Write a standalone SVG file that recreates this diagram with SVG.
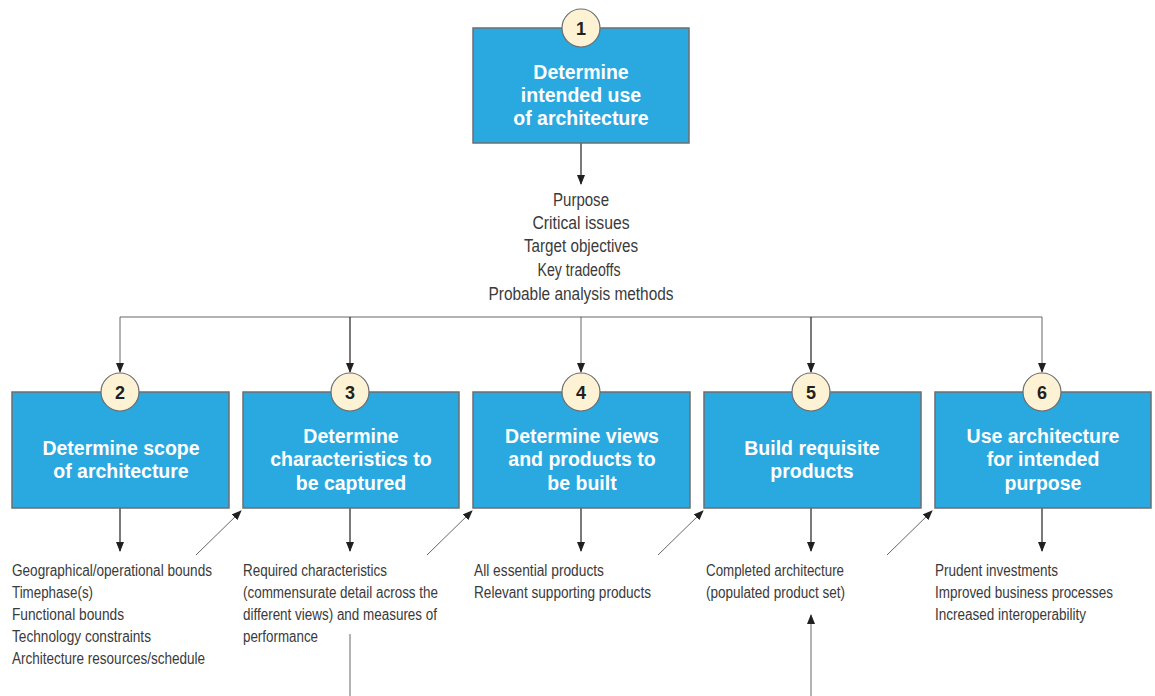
<svg xmlns="http://www.w3.org/2000/svg" width="1155" height="696" viewBox="0 0 1155 696">
<style>
.box{fill:#29a9e0;stroke:#6d6e70;stroke-width:1.5}
.num{fill:#fdf3d4;stroke:#6d6e70;stroke-width:1.2}
.numt{font-family:"Liberation Sans",Arial,sans-serif;font-weight:bold;font-size:18px;fill:#231f20;text-anchor:middle}
.bt{font-family:"Liberation Sans",Arial,sans-serif;font-weight:bold;font-size:19.5px;fill:#ffffff;text-anchor:middle}
.lt{font-family:"Liberation Sans",Arial,sans-serif;font-size:16px;fill:#3a3a3a}
.ct{font-family:"Liberation Sans",Arial,sans-serif;font-size:17.5px;fill:#3a3a3a;text-anchor:middle}
.ln{stroke:#231f20;stroke-width:1.2;fill:none}
.dg{stroke:#555;stroke-width:0.9;fill:none}
</style>
<defs>
<marker id="ah" markerWidth="10" markerHeight="8" refX="9" refY="4" orient="auto" markerUnits="userSpaceOnUse">
<path d="M0,0 L10,4 L0,8 Z" fill="#231f20"/>
</marker>
</defs>
<rect width="1155" height="696" fill="#ffffff"/>

<g id="connectors">
<line class="ln" x1="581" y1="143" x2="581" y2="184" marker-end="url(#ah)"/>
<line class="dg" x1="120" y1="317" x2="1042" y2="317"/>
<line class="dg" x1="120" y1="317" x2="120" y2="372" marker-end="url(#ah)"/>
<line class="ln" x1="350" y1="317" x2="350" y2="372" marker-end="url(#ah)"/>
<line class="dg" x1="581" y1="317" x2="581" y2="372" marker-end="url(#ah)"/>
<line class="ln" x1="811" y1="317" x2="811" y2="372" marker-end="url(#ah)"/>
<line class="dg" x1="1042" y1="317" x2="1042" y2="372" marker-end="url(#ah)"/>
<line class="ln" x1="120" y1="490" x2="120" y2="551" marker-end="url(#ah)"/>
<line class="ln" x1="350" y1="490" x2="350" y2="551" marker-end="url(#ah)"/>
<line class="ln" x1="581" y1="490" x2="581" y2="551" marker-end="url(#ah)"/>
<line class="ln" x1="811" y1="490" x2="811" y2="551" marker-end="url(#ah)"/>
<line class="ln" x1="1042" y1="490" x2="1042" y2="551" marker-end="url(#ah)"/>
<line class="dg" x1="196" y1="555" x2="241" y2="511" marker-end="url(#ah)"/>
<line class="dg" x1="427" y1="555" x2="472" y2="511" marker-end="url(#ah)"/>
<line class="dg" x1="658" y1="555" x2="703" y2="511" marker-end="url(#ah)"/>
<line class="dg" x1="887" y1="555" x2="932" y2="511" marker-end="url(#ah)"/>
<line class="dg" x1="350" y1="634" x2="350" y2="696"/>
<line class="dg" x1="811" y1="696" x2="811" y2="615" marker-end="url(#ah)"/>
</g>

<g id="node1">
<rect class="box" x="473" y="28" width="216" height="115"/>
<circle class="num" cx="581" cy="28" r="19"/>
<text class="numt" x="581" y="34.5">1</text>
<text class="bt" x="581" y="79">Determine</text>
<text class="bt" x="581" y="102">intended use</text>
<text class="bt" x="581" y="125">of architecture</text>
</g>

<g id="list1">
<text class="ct" x="581" y="206" textLength="56" lengthAdjust="spacingAndGlyphs">Purpose</text>
<text class="ct" x="581" y="229" textLength="97" lengthAdjust="spacingAndGlyphs">Critical issues</text>
<text class="ct" x="581" y="252" textLength="114" lengthAdjust="spacingAndGlyphs">Target objectives</text>
<text class="ct" x="579" y="276" textLength="83" lengthAdjust="spacingAndGlyphs">Key tradeoffs</text>
<text class="ct" x="581" y="300" textLength="185" lengthAdjust="spacingAndGlyphs">Probable analysis methods</text>
</g>

<g id="node2">
<rect class="box" x="12" y="392" width="217" height="116"/>
<circle class="num" cx="120" cy="392" r="19"/>
<text class="numt" x="120" y="398.5">2</text>
<text class="bt" x="121" y="455">Determine scope</text>
<text class="bt" x="121" y="478">of architecture</text>
</g>

<g id="node3">
<rect class="box" x="243" y="392" width="216" height="116"/>
<circle class="num" cx="350" cy="392" r="19"/>
<text class="numt" x="350" y="398.5">3</text>
<text class="bt" x="351" y="443">Determine</text>
<text class="bt" x="351" y="466">characteristics to</text>
<text class="bt" x="351" y="490">be captured</text>
</g>

<g id="node4">
<rect class="box" x="473" y="392" width="217" height="116"/>
<circle class="num" cx="581" cy="392" r="19"/>
<text class="numt" x="581" y="398.5">4</text>
<text class="bt" x="582" y="443">Determine views</text>
<text class="bt" x="582" y="466">and products to</text>
<text class="bt" x="582" y="490">be built</text>
</g>

<g id="node5">
<rect class="box" x="704" y="392" width="217" height="116"/>
<circle class="num" cx="811" cy="392" r="19"/>
<text class="numt" x="811" y="398.5">5</text>
<text class="bt" x="812" y="455">Build requisite</text>
<text class="bt" x="812" y="478">products</text>
</g>

<g id="node6">
<rect class="box" x="935" y="392" width="216" height="116"/>
<circle class="num" cx="1042" cy="392" r="19"/>
<text class="numt" x="1042" y="398.5">6</text>
<text class="bt" x="1043" y="443">Use architecture</text>
<text class="bt" x="1043" y="466">for intended</text>
<text class="bt" x="1043" y="490">purpose</text>
</g>

<g id="list2">
<text class="lt" x="12" y="576" textLength="200" lengthAdjust="spacingAndGlyphs">Geographical/operational bounds</text>
<text class="lt" x="12" y="598" textLength="81" lengthAdjust="spacingAndGlyphs">Timephase(s)</text>
<text class="lt" x="12" y="620" textLength="112" lengthAdjust="spacingAndGlyphs">Functional bounds</text>
<text class="lt" x="12" y="642" textLength="139" lengthAdjust="spacingAndGlyphs">Technology constraints</text>
<text class="lt" x="12" y="664" textLength="193" lengthAdjust="spacingAndGlyphs">Architecture resources/schedule</text>
</g>
<g id="list3">
<text class="lt" x="243" y="576" textLength="144" lengthAdjust="spacingAndGlyphs">Required characteristics</text>
<text class="lt" x="243" y="598" textLength="195" lengthAdjust="spacingAndGlyphs">(commensurate detail across the</text>
<text class="lt" x="243" y="620" textLength="194" lengthAdjust="spacingAndGlyphs">different views) and measures of</text>
<text class="lt" x="243" y="642" textLength="75" lengthAdjust="spacingAndGlyphs">performance</text>
</g>
<g id="list4">
<text class="lt" x="474" y="576" textLength="130" lengthAdjust="spacingAndGlyphs">All essential products</text>
<text class="lt" x="474" y="598" textLength="177" lengthAdjust="spacingAndGlyphs">Relevant supporting products</text>
</g>
<g id="list5">
<text class="lt" x="706" y="576" textLength="138" lengthAdjust="spacingAndGlyphs">Completed architecture</text>
<text class="lt" x="706" y="598" textLength="139" lengthAdjust="spacingAndGlyphs">(populated product set)</text>
</g>
<g id="list6">
<text class="lt" x="935" y="576" textLength="123" lengthAdjust="spacingAndGlyphs">Prudent investments</text>
<text class="lt" x="935" y="598" textLength="178" lengthAdjust="spacingAndGlyphs">Improved business processes</text>
<text class="lt" x="935" y="620" textLength="151" lengthAdjust="spacingAndGlyphs">Increased interoperability</text>
</g>
</svg>
